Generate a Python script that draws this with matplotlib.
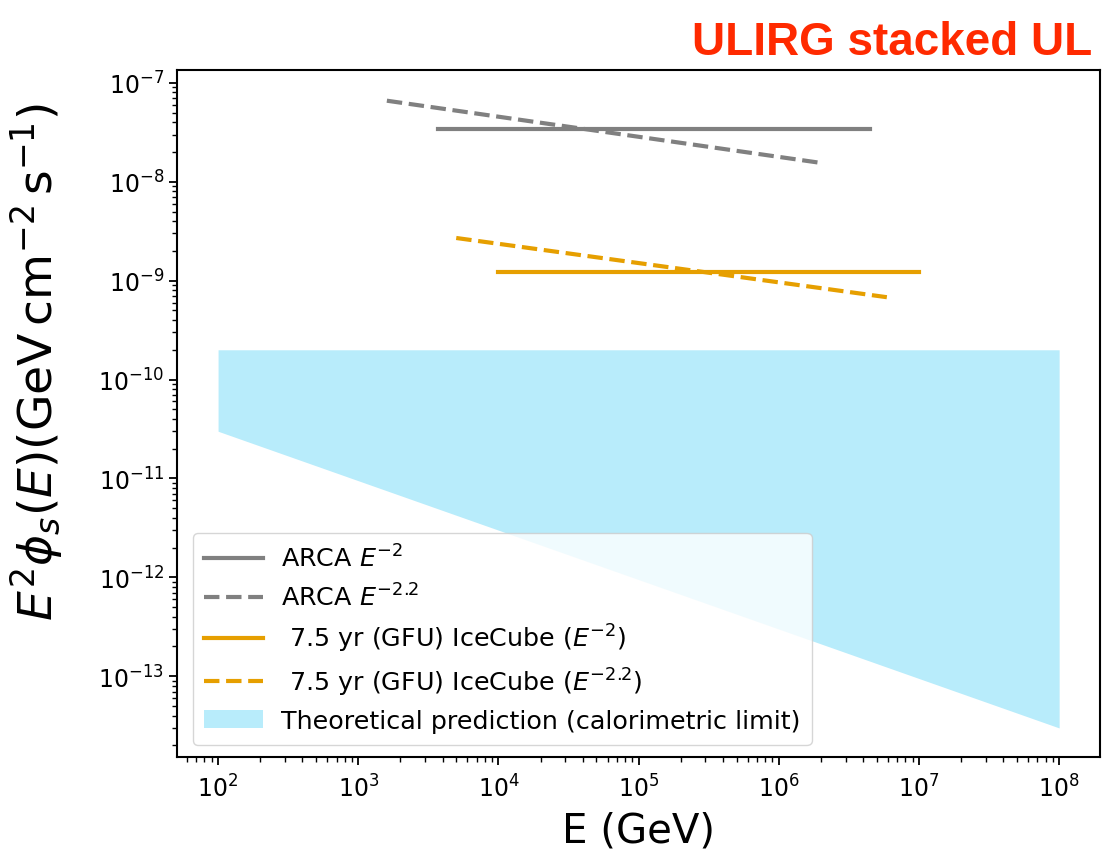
import numpy as np
import matplotlib
matplotlib.use("Agg")
import matplotlib.pyplot as plt

# ARCA stacked upper limits
arca_e = [3.7e3, 4.5e6]
arca_flux = [3.4e-8, 3.4e-8]
arca22_e = [1.6e3, 2.0e6]
arca22_flux = [6.6e-8, 1.55e-8]

# IceCube 7.5 yr GFU
ic_e = [1.0e4, 1.0e7]
ic_flux = [1.23e-9, 1.23e-9]
ic22_e = [5.0e3, 5.9e6]
ic22_flux = [2.7e-9, 6.8e-10]

# calorimetric limit band
theo_e = [1e2, 1e8]
theo_low = [3e-11, 3e-14]
theo_high = [2e-10, 2e-10]

grey = "#808080"
orange = "#E69F00"
cyan = "#b8ecfb"

fig = plt.figure(figsize=(11.02, 8.53), dpi=100)
ax = fig.add_axes([0.161, 0.111, 0.837, 0.806])

ax.fill_between(theo_e, theo_low, theo_high, color=cyan, lw=0,
                label="Theoretical prediction (calorimetric limit)")
ax.plot(arca_e, arca_flux, color=grey, lw=3, label=r"ARCA $E^{-2}$")
ax.plot(arca22_e, arca22_flux, color=grey, lw=3, ls="--", label=r"ARCA $E^{-2.2}$")
ax.plot(ic_e, ic_flux, color=orange, lw=3, label=r" 7.5 yr (GFU) IceCube ($E^{-2}$)")
ax.plot(ic22_e, ic22_flux, color=orange, lw=3, ls="--",
        label=r" 7.5 yr (GFU) IceCube ($E^{-2.2}$)")

ax.set_xscale("log")
ax.set_yscale("log")
ax.set_xlim(10**1.71, 10**8.29)
ax.set_ylim(10**-13.82, 10**-6.868)
ax.tick_params(labelsize=17, length=6, width=1.3)
ax.tick_params(axis="x", pad=6)
ax.tick_params(which="minor", length=3.5, width=1)
for s in ax.spines.values():
    s.set_linewidth(1.5)

ax.set_xlabel("E (GeV)", fontsize=29)
ax.xaxis.set_label_coords(0.5, -0.078)
ax.set_ylabel(r"$E^2\phi_s(E)(\mathrm{GeV\,cm^{-2}\,s^{-1}})$", fontsize=34)
ax.yaxis.set_label_coords(-0.122, 0.576)

h, l = ax.get_legend_handles_labels()
order = [1, 2, 3, 4, 0]
ax.legend([h[i] for i in order], [l[i] for i in order], loc="lower left",
          fontsize=18.3, handlelength=2.3, borderpad=0.45, labelspacing=0.45,
          handletextpad=0.7, bbox_to_anchor=(0.003, 0.0))

fig.text(0.991, 0.95, "ULIRG stacked UL", color="#ff2a00", fontsize=33,
         fontweight="bold", family="Liberation Sans", ha="right", va="center")

fig.savefig("out.png", dpi=100)
